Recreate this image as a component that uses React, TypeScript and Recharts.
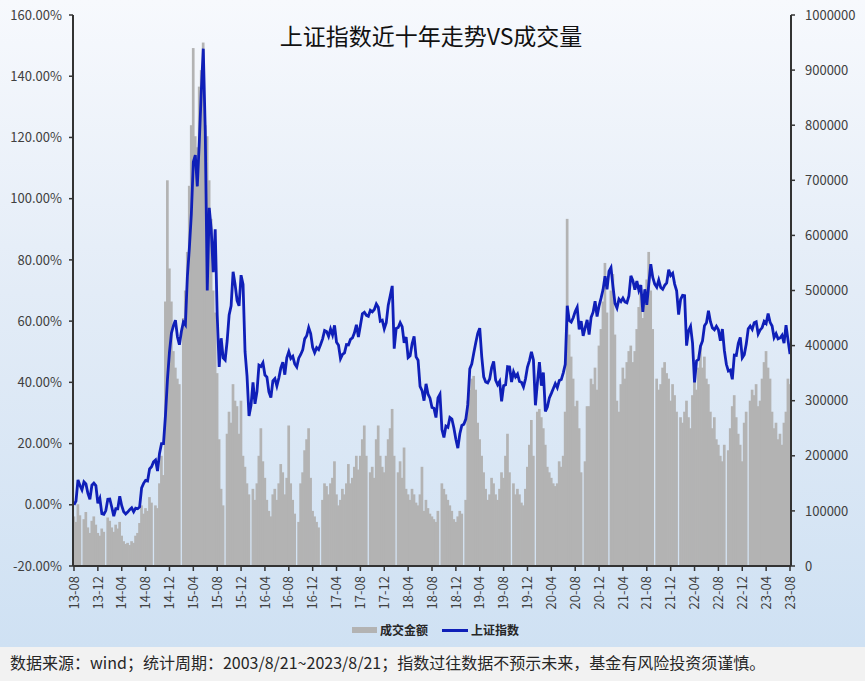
import React from 'react';
import { ComposedChart, Bar, Line, XAxis, YAxis } from 'recharts';

// x-axis tick labels (every 4 months; one sample every ~10 days, 3 per month)
const tickLabels = [
  '13-08', '13-12', '14-04', '14-08', '14-12', '15-04', '15-08', '15-12', '16-04', '16-08', '16-12',
  '17-04', '17-08', '17-12', '18-04', '18-08', '18-12', '19-04', '19-08', '19-12', '20-04', '20-08',
  '20-12', '21-04', '21-08', '21-12', '22-04', '22-08', '22-12', '23-04', '23-08',
];

// 上证指数 cumulative change (%) since 2013-08-21, samples on the 1st/11th/21st of each month
const indexPct: number[] = [
  // 2013 (Aug21, Sep..Dec)
  0.0, 1.2, 8.1, 6.3, 4.9, 7.5, 6.8, 3.7, 1.8, 6.4, 7.1, 6.3, 0.5,
  // 2014
  2.1, -2.9, -3.1, -1.9, 1.8, 1.9, -0.8, -3.7, -1.3, -1.3, 2.8, -0.3, -2.3, -3.0, -2.4, -1.6, -1.0, -2.3,
  -1.1, -1.3, -0.7, 5.5, 7.0, 8.0, 7.8, 11.7, 12.4, 14.0, 14.6, 11.0, 16.8, 20.0, 20.0, 29.3, 41.1, 49.9,
  // 2015
  56.1, 58.5, 60.3, 54.9, 52.3, 56.6, 59.7, 58.8, 74.5, 83.8, 95.0, 112.0, 114.2, 104.0, 118.5, 135.0, 149.0, 122.0,
  70.0, 97.0, 90.0, 76.0, 90.0, 62.0, 45.0, 54.4, 48.0, 47.3, 53.5, 62.0, 65.0, 76.1, 72.0, 66.7, 65.0, 75.0,
  // 2016
  72.0, 50.0, 42.0, 29.0, 32.5, 40.0, 33.0, 37.0, 45.6, 45.2, 46.4, 42.4, 41.7, 36.9, 35.0, 40.5, 41.2, 38.8,
  41.4, 44.7, 46.6, 42.5, 48.0, 50.0, 47.8, 48.5, 46.0, 45.0, 47.9, 49.1, 50.6, 54.2, 55.2, 57.9, 55.9, 51.4,
  // 2017
  49.7, 51.3, 50.7, 52.4, 54.2, 56.9, 56.6, 55.0, 57.4, 55.5, 58.6, 53.1, 52.1, 47.7, 49.1, 49.6, 52.3, 52.2,
  54.0, 54.5, 56.2, 58.8, 54.8, 58.6, 62.4, 62.9, 61.9, 61.6, 63.5, 63.0, 63.8, 65.6, 64.5, 60.0, 60.3, 57.5,
  // 2018
  59.5, 65.2, 68.3, 71.5, 51.0, 57.6, 57.9, 59.5, 58.2, 52.9, 54.8, 48.1, 48.7, 52.6, 55.0, 48.3, 47.2, 38.7,
  37.3, 34.0, 39.5, 36.2, 34.8, 31.8, 31.5, 28.5, 34.9, 36.1, 24.6, 22.0, 25.7, 25.3, 28.5, 28.0, 25.1, 21.4,
  // 2019
  18.5, 23.2, 25.9, 26.3, 28.0, 32.7, 44.4, 46.0, 49.6, 52.9, 56.0, 57.7, 48.5, 41.8, 40.1, 39.8, 41.1, 44.8,
  46.8, 40.7, 39.2, 40.3, 33.8, 38.9, 39.2, 45.1, 45.0, 40.1, 43.4, 41.8, 42.7, 40.3, 40.0, 38.5, 41.1, 45.0,
  // 2020
  47.1, 50.0, 47.3, 32.5, 39.9, 46.6, 38.9, 43.2, 30.5, 31.9, 34.9, 36.4, 38.0, 39.6, 38.3, 40.6, 40.9, 43.1,
  45.9, 65.0, 60.2, 59.7, 61.1, 63.1, 64.5, 57.3, 60.0, 55.2, 57.8, 60.4, 55.6, 61.2, 62.9, 66.5, 61.5, 65.0,
  // 2021
  67.5, 70.3, 74.7, 70.4, 76.3, 77.5, 71.3, 65.8, 64.3, 67.2, 66.4, 67.5, 66.3, 66.0, 68.2, 74.8, 73.2, 70.3,
  73.1, 70.0, 71.8, 63.0, 70.4, 65.3, 72.1, 78.6, 74.3, 72.1, 71.1, 73.4, 71.0, 70.4, 71.7, 72.5, 76.8, 74.9,
  // 2022
  75.6, 72.1, 69.9, 62.1, 67.1, 68.4, 68.3, 52.0, 56.9, 58.3, 52.8, 40.0, 47.0, 47.5, 51.8, 53.5, 58.5, 59.5,
  63.4, 59.8, 57.8, 57.2, 58.3, 57.2, 53.6, 57.4, 50.4, 45.9, 43.7, 44.0, 41.0, 48.9, 48.8, 52.7, 54.7, 48.0,
  // 2023 (Jan..Aug21)
  49.0, 52.5, 57.5, 58.4, 57.3, 59.5, 59.8, 55.8, 57.1, 57.9, 59.9, 59.2, 62.5, 59.6, 58.4, 54.6, 55.9, 54.2,
  54.5, 55.4, 52.8, 58.7, 53.8, 49.2,
];

// 成交金额, same sampling (null = market holiday)
const volume: (number | null)[] = [
  // 2013
  90000, 80000, 112000, 92000, null, 85000, 98000, 70000, 60000, 82000, 90000, 75000, 60000,
  // 2014
  55000, 68000, 62000, null, 88000, 82000, 70000, 62000, 75000, 68000, 80000, 55000, 45000, 40000, 42000, 38000, 45000, 42000,
  55000, 60000, 78000, 110000, 95000, 105000, 100000, 125000, 115000, null, 110000, 105000, 150000, 200000, 165000, 480000, 700000, 540000,
  // 2015
  480000, 390000, 360000, 340000, 330000, null, 450000, 500000, 570000, 690000, 800000, 940000, 780000, 760000, 870000, 900000, 950000, 800000,
  780000, 700000, 630000, 500000, 460000, 350000, 230000, 140000, 110000, null, 240000, 280000, 260000, 330000, 300000, 290000, 240000, 300000,
  // 2016
  200000, 180000, 150000, 130000, null, 140000, 120000, 150000, 200000, 250000, 190000, 160000, 120000, 100000, 90000, 130000, 140000, 120000,
  150000, 185000, 170000, 130000, 160000, 255000, 150000, 120000, 95000, null, 80000, 150000, 170000, 210000, 230000, 250000, 160000, 100000,
  // 2017
  90000, 80000, 70000, null, 120000, 150000, 145000, 130000, 150000, 160000, 190000, 130000, 110000, 120000, 140000, 130000, 150000, 185000,
  150000, 160000, 180000, 200000, 175000, 200000, 230000, 255000, 200000, null, 170000, 180000, 160000, 230000, 255000, 200000, 180000, 170000,
  // 2018
  200000, 230000, 250000, 285000, 200000, null, 170000, 190000, 160000, 215000, 140000, 130000, 120000, 140000, 130000, 115000, 110000, 130000,
  180000, 100000, 120000, 105000, 95000, 90000, 85000, 80000, 100000, null, 150000, 140000, 130000, 120000, 110000, 100000, 85000, 80000,
  // 2019
  90000, 100000, 95000, null, 120000, 300000, 320000, 340000, 345000, 320000, 260000, 230000, 200000, 170000, 140000, 120000, 130000, 160000,
  150000, 130000, 120000, 140000, 170000, 160000, 200000, 240000, 170000, null, 150000, 130000, 140000, 130000, 115000, 110000, 140000, 180000,
  // 2020
  220000, 265000, 200000, null, 280000, 285000, 270000, 250000, 220000, 180000, 170000, 160000, 150000, 145000, 150000, 190000, 180000, 200000,
  280000, 630000, 420000, 380000, 340000, 290000, 300000, 250000, 170000, null, 190000, 290000, 290000, 340000, 330000, 360000, 320000, 400000,
  // 2021
  430000, 480000, 550000, 460000, null, 500000, 530000, 420000, 300000, 280000, 330000, 360000, 340000, 370000, 390000, 400000, 370000, 390000,
  430000, 470000, 500000, 450000, 480000, 520000, 570000, 500000, 430000, null, 340000, 320000, 330000, 360000, 370000, 350000, 340000, 300000,
  // 2022
  330000, 310000, 280000, null, 270000, 260000, 280000, 300000, 270000, 250000, 310000, 340000, 320000, 360000, 400000, 360000, 380000, 340000,
  330000, 280000, 250000, 270000, 230000, 220000, 200000, 190000, 220000, null, 210000, 250000, 290000, 310000, 270000, 240000, 220000, 190000,
  // 2023
  260000, 280000, null, 300000, 320000, 310000, 330000, 290000, 300000, 340000, 370000, 390000, 360000, 340000, 280000, 250000, 260000, 230000,
  240000, 220000, 260000, 280000, 340000, 330000,
];

const pctTicks = [-20, 0, 20, 40, 60, 80, 100, 120, 140, 160];
const volTicks = [0, 100000, 200000, 300000, 400000, 500000, 600000, 700000, 800000, 900000, 1000000];

const seriesNames = { vol: '成交金额', pct: '上证指数' };
const colors = { vol: '#b3b3b3', pct: '#0f1fb8' };

const data = indexPct.map((p, i) => ({ i, pct: p, vol: volume[i] ?? null }));
const xTicks = tickLabels.map((_, k) => k * 12);

const FONT = "'Noto Sans CJK SC', 'Noto Sans', sans-serif";

const XTick = (props: any) => {
  const { x, y, payload } = props;
  const label = tickLabels[Math.round(payload.value / 12)] ?? '';
  return (
    <text
      x={x}
      y={y}
      transform={`rotate(-90 ${x} ${y})`}
      textAnchor="end"
      dy="0.36em"
      fontSize={13}
      fill="#404040"
      fontFamily={FONT}
    >
      {label}
    </text>
  );
};

// bar shape slightly widened so neighbouring daily-style bars merge into a solid area
const VolBar = (props: any) => {
  const { x, y, width, height, fill } = props;
  if (x == null || y == null || !height || height <= 0) return <g />;
  return <rect x={x - 0.45} y={y} width={width + 0.9} height={height} fill={fill} />;
};

export default function App() {
  return (
    <div
      style={{
        position: 'fixed',
        left: 0,
        top: 0,
        width: 865,
        height: 681,
        fontFamily: FONT,
        overflow: 'hidden',
      }}
    >
      <div
        style={{
          position: 'absolute',
          left: 0,
          top: 0,
          width: 865,
          height: 647,
          background: 'linear-gradient(to bottom, #f7f9fd 0%, #e3ecf7 45%, #cfe1f3 100%)',
        }}
      />
      <div
        style={{
          position: 'absolute',
          left: 0,
          top: 21,
          width: 862,
          textAlign: 'center',
          fontSize: 23,
          lineHeight: '28px',
          color: '#111',
        }}
      >
        上证指数近十年走势VS成交量
      </div>
      <div style={{ position: 'absolute', left: 0, top: 0 }}>
        <ComposedChart
          width={865}
          height={646}
          data={data}
          margin={{ top: 15, right: 0, bottom: 0, left: 0 }}
          barCategoryGap={0}
          barGap={0}
        >
          <XAxis
            dataKey="i"
            type="category"
            ticks={xTicks}
            interval={0}
            height={80}
            tick={<XTick />}
            tickSize={5}
            tickMargin={5}
            axisLine={{ stroke: '#333', strokeWidth: 2 }}
            tickLine={{ stroke: '#333', strokeWidth: 1.5 }}
          />
          <YAxis
            yAxisId="pct"
            orientation="left"
            width={73}
            domain={[-20, 160]}
            ticks={pctTicks}
            interval={0}
            allowDataOverflow
            tickFormatter={(v: number) => `${v.toFixed(2)}%`}
            tick={{ fontSize: 13, fill: '#404040', fontFamily: FONT }}
            tickSize={4}
            tickMargin={7}
            axisLine={{ stroke: '#333', strokeWidth: 2 }}
            tickLine={{ stroke: '#333', strokeWidth: 1.5 }}
          />
          <YAxis
            yAxisId="vol"
            orientation="right"
            width={74}
            domain={[0, 1000000]}
            ticks={volTicks}
            interval={0}
            allowDataOverflow
            tickFormatter={(v: number) => String(v)}
            tick={{ fontSize: 13, fill: '#404040', fontFamily: FONT }}
            tickSize={4}
            tickMargin={10}
            axisLine={{ stroke: '#333', strokeWidth: 2 }}
            tickLine={{ stroke: '#333', strokeWidth: 1.5 }}
          />
          <Bar
            yAxisId="vol"
            dataKey="vol"
            name={seriesNames.vol}
            fill={colors.vol}
            barSize={3}
            shape={<VolBar />}
            isAnimationActive={false}
          />
          <Line
            yAxisId="pct"
            dataKey="pct"
            name={seriesNames.pct}
            type="linear"
            stroke={colors.pct}
            strokeWidth={2.8}
            dot={false}
            activeDot={false}
            isAnimationActive={false}
          />
        </ComposedChart>
      </div>
      {/* legend */}
      <div style={{ position: 'absolute', left: 352, top: 627, width: 25, height: 6, background: colors.vol }} />
      <div
        style={{
          position: 'absolute',
          left: 380,
          top: 621,
          fontSize: 12,
          lineHeight: '18px',
          fontWeight: 'bold',
          color: '#262626',
        }}
      >
        {seriesNames.vol}
      </div>
      <div style={{ position: 'absolute', left: 442, top: 629, width: 26, height: 2.5, background: colors.pct }} />
      <div
        style={{
          position: 'absolute',
          left: 471,
          top: 621,
          fontSize: 12,
          lineHeight: '18px',
          fontWeight: 'bold',
          color: '#262626',
        }}
      >
        {seriesNames.pct}
      </div>
      {/* footer */}
      <div
        style={{
          position: 'absolute',
          left: 0,
          top: 647,
          width: 865,
          height: 34,
          background: '#f2f2f2',
          boxSizing: 'border-box',
          paddingLeft: 10,
          fontSize: 16,
          lineHeight: '30px',
          color: '#262626',
          whiteSpace: 'nowrap',
        }}
      >
        数据来源：wind；统计周期：2003/8/21~2023/8/21；指数过往数据不预示未来，基金有风险投资须谨慎。
      </div>
    </div>
  );
}
